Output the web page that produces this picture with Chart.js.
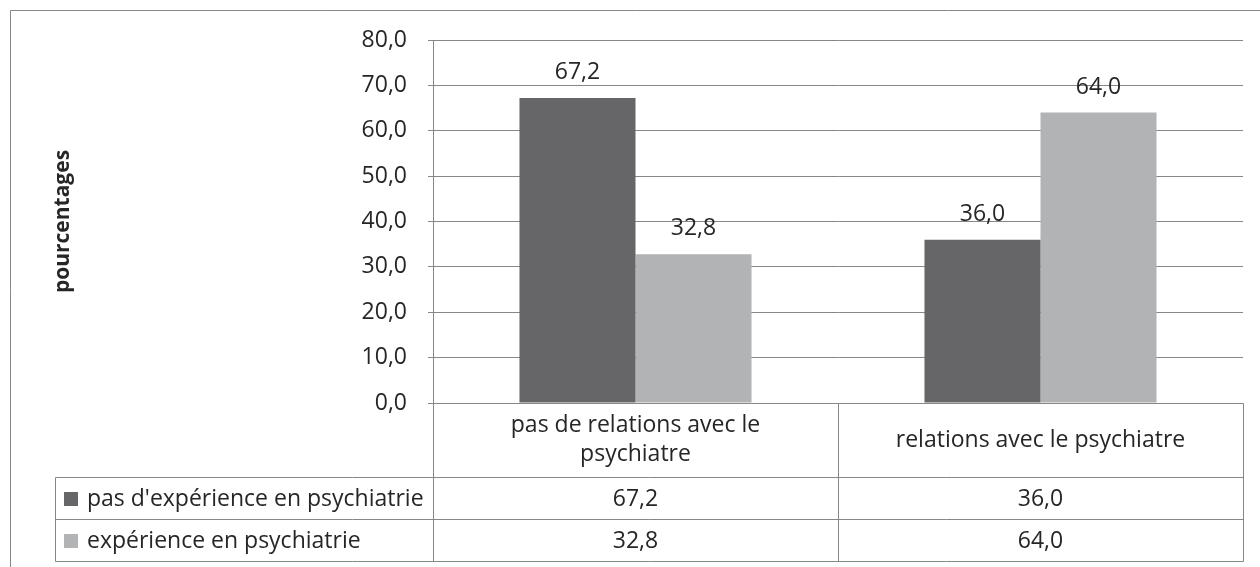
<!DOCTYPE html>
<html>
<head>
<meta charset="utf-8">
<script src="https://cdn.jsdelivr.net/npm/chart.js@4/dist/chart.umd.min.js"></script>
<style>
  html, body { margin: 0; padding: 0; background: #ffffff; }
  canvas { display: block; }
</style>
</head>
<body>
<canvas id="c" width="1260" height="567"></canvas>
<script>
// ---- data ----
const categories = [["pas de relations avec le", "psychiatre"], ["relations avec le psychiatre"]];
const seriesNames = ["pas d'expérience en psychiatrie", "expérience en psychiatrie"];
const noExperience = [67.2, 36.0];
const experience = [32.8, 64.0];
const yTicks = [0, 10, 20, 30, 40, 50, 60, 70, 80];
const axisTitle = "pourcentages";

// ---- styles ----
const FONT = "'Open Sans', 'Noto Sans', sans-serif";
const TEXT = "#262626";
const LINE = "#878787";
const COLORS = ["#666668", "#b2b3b5"];
const fmt = v => v.toFixed(1).replace('.', ',');

const frame = {
  id: 'frame',
  beforeDraw(chart) {
    const ctx = chart.ctx;
    ctx.save();
    ctx.fillStyle = '#ffffff';
    ctx.fillRect(0, 0, chart.width, chart.height);
    ctx.strokeStyle = LINE;
    ctx.lineWidth = 1;
    ctx.beginPath();
    ctx.moveTo(10.5, chart.height + 5);
    ctx.lineTo(10.5, 10.5);
    ctx.lineTo(chart.width + 5, 10.5);
    ctx.stroke();
    ctx.restore();
  }
};

const valueLabels = {
  id: 'valueLabels',
  afterDatasetsDraw(chart) {
    const ctx = chart.ctx;
    ctx.save();
    ctx.font = "23px " + FONT;
    ctx.fillStyle = TEXT;
    ctx.textAlign = 'center';
    ctx.textBaseline = 'alphabetic';
    chart.data.datasets.forEach((ds, di) => {
      const meta = chart.getDatasetMeta(di);
      meta.data.forEach((bar, i) => {
        ctx.fillText(fmt(ds.data[i]), bar.x, bar.y - 19);
      });
    });
    ctx.restore();
  }
};

const dataTable = {
  id: 'dataTable',
  afterDraw(chart) {
    const ctx = chart.ctx;
    const area = chart.chartArea;
    const xs = chart.scales.x;
    const n = categories.length;
    const colW = (area.right - area.left) / n;
    const left = area.left, right = area.right;
    const top = area.bottom;
    const headerBottom = top + 74;
    const rowH = 42;
    const legendLeft = 55;
    const p = v => Math.round(v) + 0.5;

    ctx.save();
    ctx.strokeStyle = LINE;
    ctx.lineWidth = 1;
    ctx.beginPath();
    ctx.moveTo(p(left), p(top)); ctx.lineTo(p(right), p(top));
    for (let r = 0; r <= seriesNames.length; r++) {
      const y = p(headerBottom + r * rowH);
      ctx.moveTo(p(legendLeft), y); ctx.lineTo(p(right), y);
    }
    const bottom = p(headerBottom + seriesNames.length * rowH);
    ctx.moveTo(p(legendLeft), p(headerBottom)); ctx.lineTo(p(legendLeft), bottom);
    for (let c = 0; c <= n; c++) {
      const x = p(left + c * colW);
      ctx.moveTo(x, p(top)); ctx.lineTo(x, bottom);
    }
    ctx.stroke();

    ctx.font = "23px " + FONT;
    ctx.fillStyle = TEXT;
    ctx.textBaseline = 'middle';
    ctx.textAlign = 'center';
    categories.forEach((lines, i) => {
      const cx = xs.getPixelForValue(i);
      const cy = (top + headerBottom) / 2;
      const lh = 29;
      lines.forEach((t, k) => {
        ctx.fillText(t, cx, cy + (k - (lines.length - 1) / 2) * lh);
      });
    });
    chart.data.datasets.forEach((ds, r) => {
      const cy = headerBottom + r * rowH + rowH / 2 + 1;
      ds.data.forEach((v, i) => {
        ctx.textAlign = 'center';
        ctx.fillText(fmt(v), xs.getPixelForValue(i), cy);
      });
      ctx.fillStyle = ds.backgroundColor;
      ctx.fillRect(64, Math.round(cy - 7), 14, 14);
      ctx.fillStyle = TEXT;
      ctx.textAlign = 'left';
      ctx.fillText(ds.label, 87, cy);
    });
    ctx.restore();
  }
};

new Chart(document.getElementById('c'), {
  type: 'bar',
  data: {
    labels: categories,
    datasets: [
      { label: seriesNames[0], data: noExperience, backgroundColor: COLORS[0],
        categoryPercentage: 0.573, barPercentage: 1.0 },
      { label: seriesNames[1], data: experience, backgroundColor: COLORS[1],
        categoryPercentage: 0.573, barPercentage: 1.0 }
    ]
  },
  options: {
    responsive: false,
    animation: false,
    devicePixelRatio: 1,
    layout: { padding: { left: 10, top: 40, right: 17, bottom: 164 } },
    plugins: { legend: { display: false }, tooltip: { enabled: false } },
    scales: {
      x: { display: false },
      y: {
        min: 0, max: 80,
        afterBuildTicks: s => { s.ticks = yTicks.map(v => ({ value: v })); },
        afterFit: s => { s.width = 423; },
        ticks: {
          callback: v => fmt(v),
          font: { family: FONT, size: 23 },
          color: TEXT,
          padding: 21
        },
        grid: { color: LINE, lineWidth: 1, tickLength: 5 },
        border: { display: true, color: LINE, width: 1 },
        title: {
          display: true,
          text: axisTitle,
          font: { family: FONT, size: 21, weight: 'bold' },
          color: TEXT,
          padding: { top: 40, bottom: 0 }
        }
      }
    }
  },
  plugins: [frame, valueLabels, dataTable]
});
</script>
</body>
</html>
